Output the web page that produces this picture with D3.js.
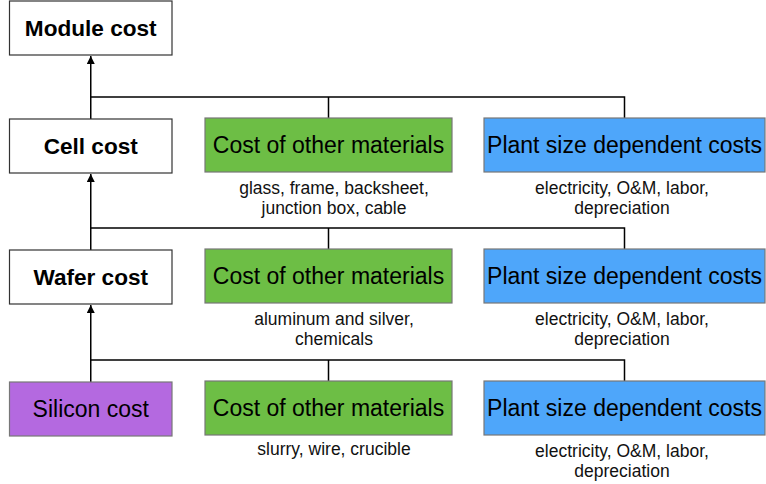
<!DOCTYPE html>
<html>
<head>
<meta charset="utf-8">
<script src="https://cdn.jsdelivr.net/npm/d3@7"></script>
<style>
    body { margin: 0; background: #fff; }
    text { font-family: "Liberation Sans", Arial, Helvetica, sans-serif; }
</style>
</head>
<body>
<div class="chart"></div>
<script>
// cost chain, top to bottom
var levels = ['Module cost', 'Cell cost', 'Wafer cost', 'Silicon cost'];
var levelBold = [true, true, true, false];
var levelFill = ['#ffffff', '#ffffff', '#ffffff', '#b469e0'];

// side boxes feeding into each level (none for the module row)
var sideKinds = ['Cost of other materials', 'Plant size dependent costs'];
var sideFill = ['#6dbe45', '#4ea6fa'];
var materialNotes = [
    [],
    ['glass, frame, backsheet,', 'junction box, cable'],
    ['aluminum and silver,', 'chemicals'],
    ['slurry, wire, crucible']
];
var plantNotes = [
    [],
    ['electricity, O&M, labor,', 'depreciation'],
    ['electricity, O&M, labor,', 'depreciation'],
    ['electricity, O&M, labor,', 'depreciation']
];

function initChart() {
    var fullWidth = 766;
    var fullHeight = 484;
    var boxHeight = 54;

    var svg = d3.select('.chart')
                .append('svg')
                .attr('width', fullWidth)
                .attr('height', fullHeight);

    svg.append('defs').append('marker')
        .attr('id', 'arrow')
        .attr('viewBox', '0 0 8 8')
        .attr('refX', 8)
        .attr('refY', 4)
        .attr('markerWidth', 8)
        .attr('markerHeight', 8)
        .attr('markerUnits', 'userSpaceOnUse')
        .attr('orient', 'auto')
        .append('path')
        .attr('d', 'M0,0 L8,4 L0,8 Z')
        .attr('fill', '#000');

    // row tops
    var rowScale = d3.scaleOrdinal()
                     .domain(levels)
                     .range([1, 119, 250, 382]);

    // columns: chain box, materials box, plant box
    var colLeft = d3.scaleOrdinal().domain(['chain'].concat(sideKinds)).range([9.5, 205, 484]);
    var colWidth = d3.scaleOrdinal().domain(['chain'].concat(sideKinds)).range([162.5, 247, 281]);
    var colMid = function (k) { return colLeft(k) + colWidth(k) / 2; };
    var noteMid = d3.scaleOrdinal().domain(sideKinds).range([334, 622]);

    // connectors
    levels.forEach(function (lvl, i) {
        if (i === 0) return;
        var above = levels[i - 1];
        var top = rowScale(lvl);
        var busY = top - 22;
        var g = svg.append('g')
                   .attr('fill', 'none')
                   .attr('stroke', '#000')
                   .attr('stroke-width', 1.5);
        g.append('line')
            .attr('x1', colMid('chain')).attr('x2', colMid('chain'))
            .attr('y1', top).attr('y2', rowScale(above) + boxHeight + 1)
            .attr('marker-end', 'url(#arrow)');
        g.append('path')
            .attr('d', 'M' + colMid('chain') + ',' + busY +
                       'H' + colMid(sideKinds[1]) +
                       'V' + top +
                       'M' + colMid(sideKinds[0]) + ',' + busY +
                       'V' + top);
    });

    // chain boxes
    var chain = svg.selectAll('.chain')
                   .data(levels)
                   .enter().append('g')
                   .attr('class', 'chain');
    chain.append('rect')
        .attr('x', colLeft('chain'))
        .attr('y', function (d) { return rowScale(d); })
        .attr('width', colWidth('chain'))
        .attr('height', boxHeight)
        .attr('fill', function (d, i) { return levelFill[i]; })
        .attr('stroke', function (d, i) { return levelBold[i] ? '#333' : '#777'; })
        .attr('stroke-width', 1.2);
    chain.append('text')
        .attr('x', colMid('chain'))
        .attr('y', function (d) { return rowScale(d) + boxHeight / 2; })
        .attr('dy', '0.35em')
        .attr('text-anchor', 'middle')
        .attr('font-size', function (d, i) { return levelBold[i] ? 22.6 : 23; })
        .attr('font-weight', function (d, i) { return levelBold[i] ? 'bold' : 'normal'; })
        .attr('fill', '#000')
        .text(function (d) { return d; });

    // side boxes
    var sideRows = levels.slice(1);
    sideKinds.forEach(function (kind, k) {
        var notes = k === 0 ? materialNotes : plantNotes;
        var g = svg.selectAll('.side' + k)
                   .data(sideRows)
                   .enter().append('g')
                   .attr('class', 'side' + k);
        g.append('rect')
            .attr('x', colLeft(kind))
            .attr('y', function (d) { return rowScale(d) - 1; })
            .attr('width', colWidth(kind))
            .attr('height', boxHeight)
            .attr('fill', sideFill[k])
            .attr('stroke', '#777')
            .attr('stroke-width', 1.2);
        g.append('text')
            .attr('x', colMid(kind))
            .attr('y', function (d) { return rowScale(d) - 1 + boxHeight / 2; })
            .attr('dy', '0.35em')
            .attr('text-anchor', 'middle')
            .attr('font-size', 23)
            .attr('fill', '#000')
            .text(kind);
        g.each(function (d) {
            var lines = notes[levels.indexOf(d)];
            var y0 = rowScale(d) - 1 + boxHeight + (lines.length > 1 ? 16 : 14);
            d3.select(this).selectAll('.note')
                .data(lines)
                .enter().append('text')
                .attr('class', 'note')
                .attr('x', noteMid(kind))
                .attr('y', function (t, j) { return y0 + j * 19.5; })
                .attr('dy', '0.35em')
                .attr('text-anchor', 'middle')
                .attr('font-size', 17.5)
                .attr('fill', '#111')
                .text(function (t) { return t; });
        });
    });
}

initChart();
</script>
</body>
</html>
